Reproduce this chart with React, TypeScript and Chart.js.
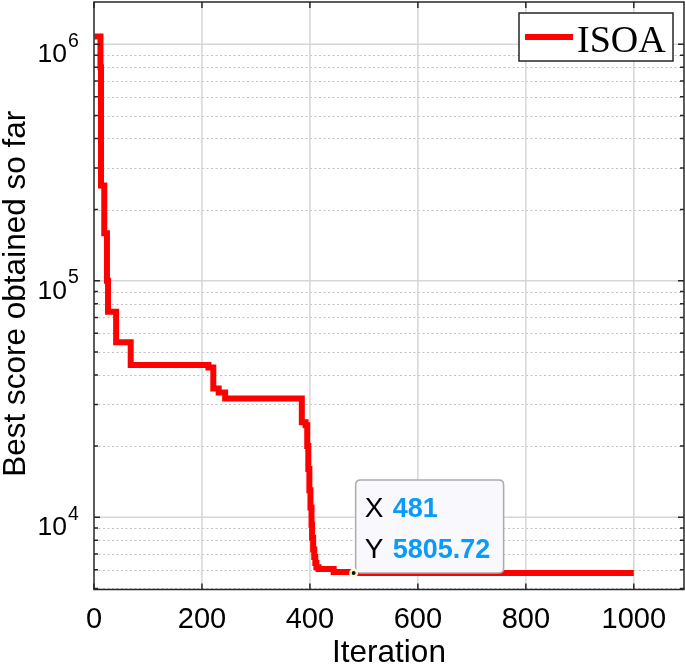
import React, { useEffect, useRef } from 'react';
import { Chart, registerables } from 'chart.js';

Chart.register(...registerables);

// ---- data ----
const iterations = [1, 12, 13, 19, 24, 26, 41, 68, 212, 221, 231, 243, 385, 392, 395, 397, 399, 401, 403, 404, 406, 408, 410, 412, 416, 444, 481, 1000];
const bestScores = [1.08e6, 8.0e5, 2.53e5, 1.59e5, 1.0e5, 7.4e4, 5.5e4, 4.4e4, 4.3e4, 3.5e4, 3.37e4, 3.18e4, 2.52e4, 2.45e4, 2.0e4, 1.6e4, 1.3e4, 1.1e4, 9.3e3, 8.2e3, 7.3e3, 6.8e3, 6.4e3, 6.15e3, 6.05e3, 5.87e3, 5805.72, 5805.72];
const seriesName = 'ISOA';
const xTicks = [0, 200, 400, 600, 800, 1000];
const yDecades = [1e4, 1e5, 1e6];
const xLimits = [0, 1093];
const yLimits = [4950, 1.51e6];
const tipX = 481;
const tipY = 5805.72;
const xTitle = 'Iteration';
const yTitle = 'Best score obtained so far';

const SANS = '"Liberation Sans", Arial, Helvetica, sans-serif';
const SERIF = '"Liberation Serif", "Times New Roman", serif';

const decorPlugin = {
  id: 'decor',
  beforeDatasetsDraw(chart: any) {
    const { ctx, chartArea: a, scales } = chart;
    const xs = scales.x;
    const ys = scales.y;
    ctx.save();
    ctx.fillStyle = '#ffffff';
    ctx.fillRect(0, 0, chart.width, chart.height);
    // minor y grid (dotted)
    ctx.strokeStyle = '#c2c2c2';
    ctx.lineWidth = 1;
    ctx.setLineDash([2, 2.5]);
    for (let k = 3; k <= 6; k++) {
      for (let m = 2; m <= 9; m++) {
        const v = m * Math.pow(10, k);
        if (v <= yLimits[0] || v >= yLimits[1]) continue;
        const py = Math.round(ys.getPixelForValue(v)) + 0.5;
        ctx.beginPath();
        ctx.moveTo(a.left, py);
        ctx.lineTo(a.right, py);
        ctx.stroke();
      }
    }
    ctx.setLineDash([]);
    // major grid
    ctx.strokeStyle = '#d6d6d6';
    ctx.lineWidth = 1.5;
    yDecades.forEach((v) => {
      const py = ys.getPixelForValue(v);
      ctx.beginPath();
      ctx.moveTo(a.left, py);
      ctx.lineTo(a.right, py);
      ctx.stroke();
    });
    xTicks.forEach((v) => {
      if (v === xLimits[0]) return;
      const px = xs.getPixelForValue(v);
      ctx.beginPath();
      ctx.moveTo(px, a.top);
      ctx.lineTo(px, a.bottom);
      ctx.stroke();
    });
    ctx.restore();
  },
  afterDatasetsDraw(chart: any) {
    const { ctx, chartArea: a, scales } = chart;
    const xs = scales.x;
    const ys = scales.y;
    ctx.save();
    // axes box
    ctx.strokeStyle = '#262626';
    ctx.lineWidth = 1.5;
    ctx.strokeRect(a.left, a.top, a.right - a.left, a.bottom - a.top);
    // x ticks (inward, bottom & top)
    ctx.lineWidth = 1.5;
    xTicks.forEach((v) => {
      const px = xs.getPixelForValue(v);
      ctx.beginPath();
      ctx.moveTo(px, a.bottom);
      ctx.lineTo(px, a.bottom - 6);
      ctx.moveTo(px, a.top);
      ctx.lineTo(px, a.top + 6);
      ctx.stroke();
    });
    // y ticks (major & minor, inward, left & right)
    for (let k = 3; k <= 6; k++) {
      for (let m = 1; m <= 9; m++) {
        const v = m * Math.pow(10, k);
        if (v < yLimits[0] || v > yLimits[1]) continue;
        const len = m === 1 ? 6 : 4;
        const py = ys.getPixelForValue(v);
        ctx.beginPath();
        ctx.moveTo(a.left, py);
        ctx.lineTo(a.left + len, py);
        ctx.moveTo(a.right, py);
        ctx.lineTo(a.right - len, py);
        ctx.stroke();
      }
    }
    // x tick labels
    ctx.fillStyle = '#000000';
    ctx.font = `29px ${SANS}`;
    ctx.textAlign = 'center';
    ctx.textBaseline = 'alphabetic';
    xTicks.forEach((v) => {
      ctx.fillText(String(v), xs.getPixelForValue(v), a.bottom + 38.5);
    });
    // y tick labels 10^k
    yDecades.forEach((v) => {
      const py = ys.getPixelForValue(v);
      const e = Math.round(Math.log10(v));
      ctx.textAlign = 'right';
      ctx.font = `26.5px ${SANS}`;
      ctx.fillText('10', 67, py + 18);
      ctx.textAlign = 'left';
      ctx.font = `19.5px ${SANS}`;
      ctx.fillText(String(e), 68, py + 2.5);
    });
    // axis titles
    ctx.font = `31.5px ${SANS}`;
    ctx.textAlign = 'center';
    ctx.fillText(xTitle, (a.left + a.right) / 2, 662);
    ctx.save();
    ctx.translate(25, (a.top + a.bottom) / 2 - 2);
    ctx.rotate(-Math.PI / 2);
    ctx.fillText(yTitle, 0, 0);
    ctx.restore();

    // legend
    const lx = 519, ly = 13, lw = 154, lh = 48;
    ctx.fillStyle = '#ffffff';
    ctx.fillRect(lx, ly, lw, lh);
    ctx.strokeStyle = '#262626';
    ctx.lineWidth = 1.5;
    ctx.strokeRect(lx, ly, lw, lh);
    const ds = chart.data.datasets[0];
    ctx.strokeStyle = ds.borderColor;
    ctx.lineWidth = 6;
    ctx.beginPath();
    ctx.moveTo(525, 37);
    ctx.lineTo(573, 37);
    ctx.stroke();
    ctx.fillStyle = '#000000';
    ctx.font = `38px ${SERIF}`;
    ctx.textAlign = 'left';
    ctx.fillText(ds.label, 577, 52);

    // data tip
    const mx = xs.getPixelForValue(tipX);
    const my = ys.getPixelForValue(tipY);
    const bx = mx + 2, by = my - 93, bw = 148, bh = 93, r = 5;
    ctx.beginPath();
    ctx.moveTo(bx + r, by);
    ctx.lineTo(bx + bw - r, by);
    ctx.quadraticCurveTo(bx + bw, by, bx + bw, by + r);
    ctx.lineTo(bx + bw, by + bh - r);
    ctx.quadraticCurveTo(bx + bw, by + bh, bx + bw - r, by + bh);
    ctx.lineTo(bx + r, by + bh);
    ctx.quadraticCurveTo(bx, by + bh, bx, by + bh - r);
    ctx.lineTo(bx, by + r);
    ctx.quadraticCurveTo(bx, by, bx + r, by);
    ctx.closePath();
    ctx.fillStyle = '#f8f8fd';
    ctx.fill();
    ctx.strokeStyle = '#ababab';
    ctx.lineWidth = 1.5;
    ctx.stroke();
    ctx.fillStyle = '#000000';
    ctx.font = `28px ${SANS}`;
    ctx.fillText('X', bx + 9, by + 37);
    ctx.fillText('Y', bx + 9, by + 78);
    ctx.fillStyle = '#0a9af7';
    ctx.font = `bold 27px ${SANS}`;
    ctx.fillText(String(tipX), bx + 37, by + 37);
    ctx.fillText(String(tipY), bx + 37, by + 78);
    // marker
    ctx.fillStyle = '#fdfbd0';
    ctx.beginPath();
    ctx.arc(mx, my, 4.5, 0, Math.PI * 2);
    ctx.fill();
    ctx.fillStyle = '#111111';
    ctx.beginPath();
    ctx.arc(mx, my, 2, 0, Math.PI * 2);
    ctx.fill();
    ctx.restore();
  },
};

export default function App() {
  const canvasRef = useRef<HTMLCanvasElement | null>(null);
  useEffect(() => {
    const canvas = canvasRef.current;
    if (!canvas) return;
    const chart = new Chart(canvas, {
      type: 'line',
      data: {
        datasets: [
          {
            label: seriesName,
            data: iterations.map((x, i) => ({ x, y: bestScores[i] })),
            borderColor: '#ff0000',
            backgroundColor: '#ff0000',
            borderWidth: 6,
            pointRadius: 0,
            stepped: 'before',
            fill: false,
            tension: 0,
          },
        ],
      },
      options: {
        responsive: false,
        animation: false,
        devicePixelRatio: 1,
        events: [],
        layout: { padding: { left: 94, top: 2, right: 1, bottom: 75.5 } },
        plugins: { legend: { display: false }, tooltip: { enabled: false } },
        scales: {
          x: { type: 'linear', min: xLimits[0], max: xLimits[1], display: false },
          y: { type: 'logarithmic', min: yLimits[0], max: yLimits[1], display: false },
        },
      } as any,
      plugins: [decorPlugin],
    });
    return () => chart.destroy();
  }, []);
  return (
    <div style={{ position: 'fixed', left: 0, top: 0, width: 685, height: 665, background: '#ffffff' }}>
      <canvas ref={canvasRef} width={685} height={665} style={{ display: 'block', width: 685, height: 665 }} />
    </div>
  );
}
